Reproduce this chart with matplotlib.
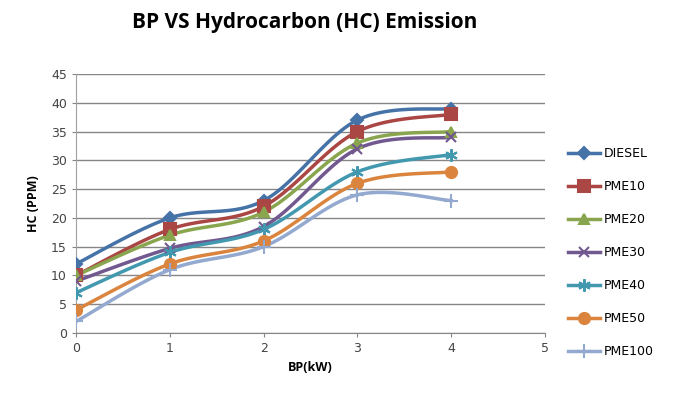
import numpy as np
import matplotlib
matplotlib.use("Agg")
import matplotlib.pyplot as plt

bp = [0, 1, 2, 3, 4]
diesel = [12, 20, 23, 37, 39]
pme10 = [10, 18, 22, 35, 38]
pme20 = [10, 17, 21, 33, 35]
pme30 = [9, 14.7, 18.5, 32, 34]
pme40 = [7, 14, 18, 28, 31]
pme50 = [4, 12, 16, 26, 28]
pme100 = [2, 11, 15, 24, 23]

names = ['DIESEL', 'PME10', 'PME20', 'PME30', 'PME40', 'PME50', 'PME100']
series = [diesel, pme10, pme20, pme30, pme40, pme50, pme100]
colors = ['#4572A7', '#AA4643', '#89A54E', '#71588F', '#4198AF', '#DB843D', '#93A9CF']
markers = ['D', 's', '^', 'x', (6, 2, 0), 'o', '+']
msizes = [6, 8, 7, 7, 9, 8, 10]


def smooth(x, y, n=30):
    # excel-like smoothed line (cardinal bezier through points)
    x = np.asarray(x, float)
    y = np.asarray(y, float)
    px = np.concatenate([[x[0]], x, [x[-1]]])
    py = np.concatenate([[y[0]], y, [y[-1]]])
    xs, ys = [], []
    t = np.linspace(0, 1, n)
    for i in range(1, len(x)):
        p0 = np.array([px[i], py[i]])
        p3 = np.array([px[i + 1], py[i + 1]])
        c1 = p0 + (np.array([px[i + 1], py[i + 1]]) - np.array([px[i - 1], py[i - 1]])) / 6
        c2 = p3 - (np.array([px[i + 2], py[i + 2]]) - np.array([px[i], py[i]])) / 6
        b = ((1 - t) ** 3)[:, None] * p0 + (3 * (1 - t) ** 2 * t)[:, None] * c1 \
            + (3 * (1 - t) * t ** 2)[:, None] * c2 + (t ** 3)[:, None] * p3
        xs.extend(b[:, 0])
        ys.extend(b[:, 1])
    return xs, ys


fig = plt.figure(figsize=(6.77, 4.08), dpi=100)
ax = fig.add_axes([76 / 677, 75 / 408, 469 / 677, 259 / 408])

for name, vals, c, m, ms in zip(names, series, colors, markers, msizes):
    sx, sy = smooth(bp, vals)
    ax.plot(sx, sy, color=c, lw=2.5, zorder=2)
    ax.plot(bp, vals, ls='none', marker=m, color=c, ms=ms, mew=1.5, zorder=3)
    ax.plot([], [], color=c, lw=2.5, marker=m, ms=ms, mew=1.5, label=name)

ax.set_xlim(0, 5)
ax.set_ylim(0, 45)
ax.set_xticks(range(0, 6))
ax.set_yticks(range(0, 46, 5))
ax.grid(axis='y', color='#868686', lw=1)
ax.set_axisbelow(True)
for s in ['top', 'right']:
    ax.spines[s].set_visible(False)
ax.spines['left'].set_color('#A0A0A0')
ax.spines['bottom'].set_color('#868686')
ax.tick_params(length=3, colors='#868686', labelcolor='#444444', labelsize=9)

ax.set_xlabel('BP(kW)', fontsize=9, fontweight='bold', family='Open Sans')
ax.set_ylabel('HC (PPM)', fontsize=9, fontweight='bold', family='Open Sans', labelpad=8)
fig.text(0.45, 0.945, 'BP VS Hydrocarbon (HC) Emission', ha='center', va='center',
         fontsize=15, fontweight='bold', family='Open Sans')

ax.legend(loc='center left', bbox_to_anchor=(1.025, 0.31), frameon=False,
          labelspacing=1.6, handlelength=2.6, handletextpad=0.3, fontsize=9)

fig.savefig('out.png', dpi=100)
